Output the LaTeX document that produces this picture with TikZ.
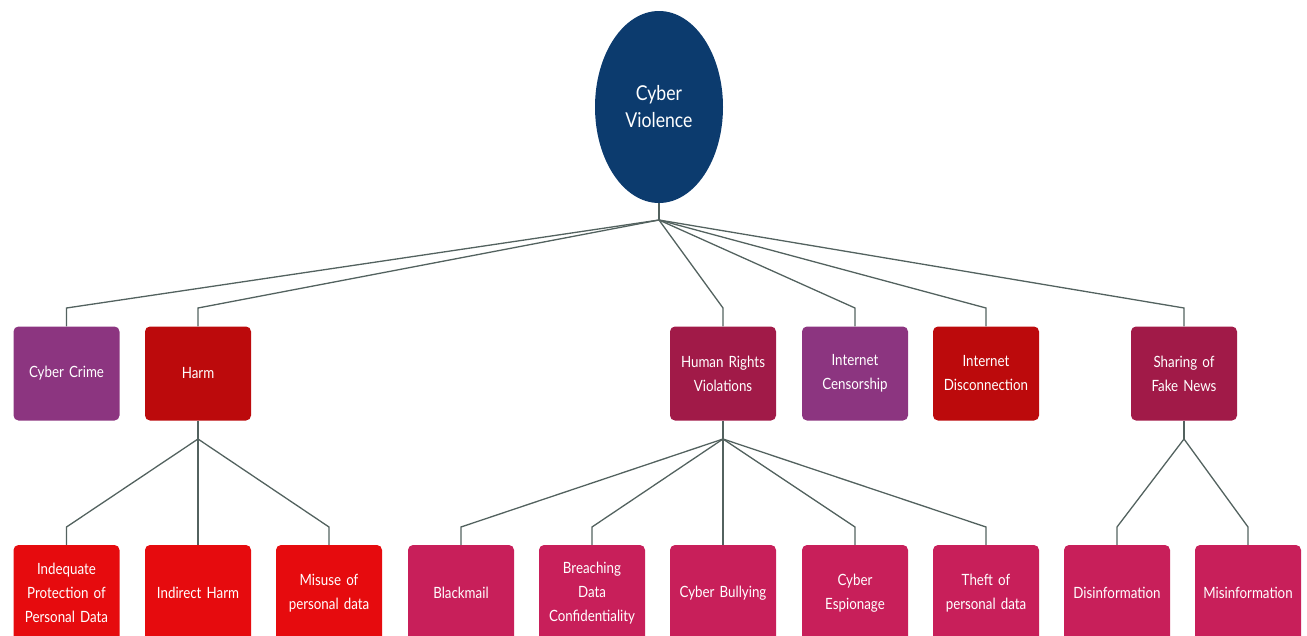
\documentclass[tikz,border=0pt]{standalone}
\usepackage{fontspec}
\setmainfont{Lato}[FakeStretch=0.86]
\usetikzlibrary{shapes.geometric}
\definecolor{cvblue}{HTML}{0C3B6E}
\definecolor{cvpurple}{HTML}{8C3580}
\definecolor{cvdarkred}{HTML}{BC0A0C}
\definecolor{cvwine}{HTML}{A11A48}
\definecolor{cvred}{HTML}{E60B0E}
\definecolor{cvpink}{HTML}{C81F5A}
\definecolor{cvline}{HTML}{53625F}
\tikzset{
  box/.style={draw=none, rounded corners=5pt, minimum width=106pt, minimum height=94pt,
    text width=100pt, align=center, text=white, font=\fontsize{15.5}{24}\selectfont, inner sep=0pt},
  boxl2/.style={box, minimum height=96pt},
  link/.style={draw=cvline, line width=1.3pt},
}
\begin{document}
\begin{tikzpicture}[x=1pt,y=-1pt]
\useasboundingbox (0,0) rectangle (1307,635);
\node[ellipse, fill=cvblue, minimum width=128pt, minimum height=192pt, inner sep=0pt,
  text=white, align=center, font=\fontsize{20.5}{27}\selectfont] (root) at (659,107) {Cyber\\Violence};
\coordinate (j0) at (659,220);
% level 1
\node[box, fill=cvpurple] (crime) at (66.5,373.5) {Cyber Crime};
\node[box, fill=cvdarkred] (harm) at (198,373.5) {Harm};
\node[box, fill=cvwine] (hrv) at (723,373.5) {Human Rights\\Violations};
\node[box, fill=cvpurple] (cens) at (855,373.5) {Internet\\Censorship};
\node[box, fill=cvdarkred] (disc) at (986,373.5) {Internet\\Disconnection};
\node[box, fill=cvwine] (fake) at (1184,373.5) {Sharing of\\Fake News};
% level 2
\node[boxl2, fill=cvred] (inad) at (66.5,593) {Indequate\\Protection of\\Personal Data};
\node[boxl2, fill=cvred] (indir) at (198,593) {Indirect Harm};
\node[boxl2, fill=cvred] (misuse) at (329,593) {Misuse of\\personal data};
\node[boxl2, fill=cvpink] (black) at (461,593) {Blackmail};
\node[boxl2, fill=cvpink] (breach) at (592,593) {Breaching\\Data\\Confidentiality};
\node[boxl2, fill=cvpink] (bully) at (723,593) {Cyber Bullying};
\node[boxl2, fill=cvpink] (esp) at (855,593) {Cyber\\Espionage};
\node[boxl2, fill=cvpink] (theft) at (986,593) {Theft of\\personal data};
\node[boxl2, fill=cvpink] (disinf) at (1117,593) {Disinformation};
\node[boxl2, fill=cvpink] (misinf) at (1248,593) {Misinformation};
% connectors level 1
\draw[link] (root.south) -- (j0);
\foreach \n in {crime,harm,hrv,cens,disc,fake}{
  \draw[link] (j0) -- (\n.north |- 0,308) -- (\n.north);
}
% harm children
\coordinate (jh) at (198,439);
\draw[link] (harm.south) -- (jh);
\foreach \n in {inad,indir,misuse}{
  \draw[link] (jh) -- (\n.north |- 0,527) -- (\n.north);
}
% human rights children
\coordinate (jr) at (723,439);
\draw[link] (hrv.south) -- (jr);
\foreach \n in {black,breach,bully,esp,theft}{
  \draw[link] (jr) -- (\n.north |- 0,527) -- (\n.north);
}
% fake news children
\coordinate (jf) at (1184,439);
\draw[link] (fake.south) -- (jf);
\foreach \n in {disinf,misinf}{
  \draw[link] (jf) -- (\n.north |- 0,527) -- (\n.north);
}
\end{tikzpicture}
\end{document}
